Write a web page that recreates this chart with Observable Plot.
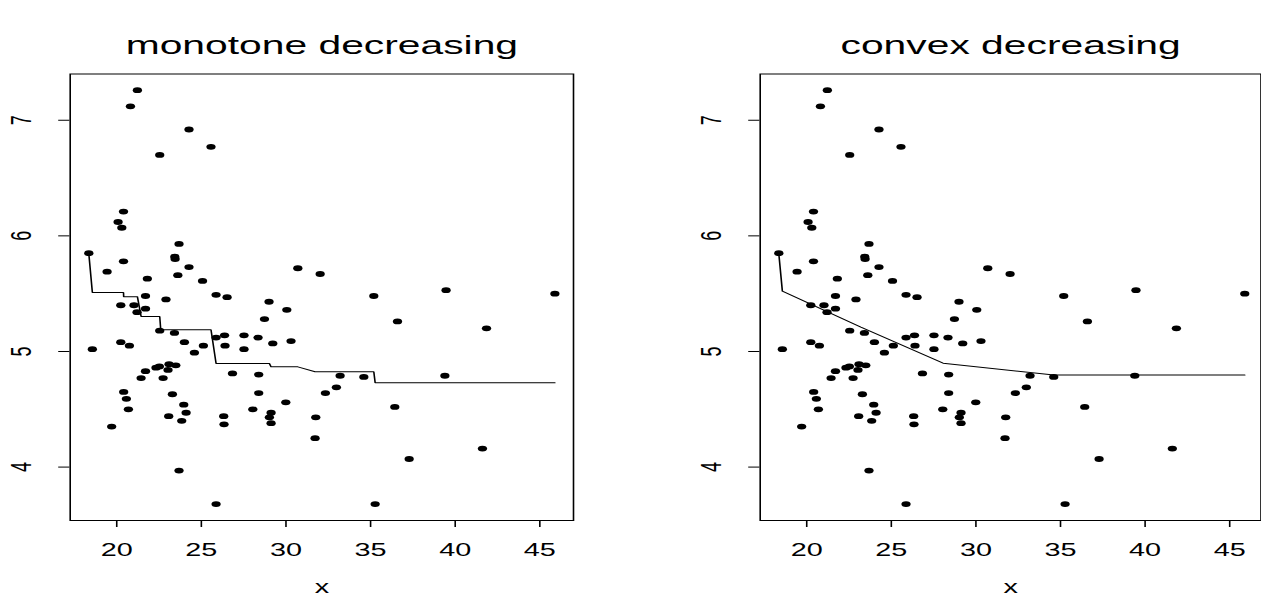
<!DOCTYPE html>
<html><head><meta charset="utf-8">
<script src="https://cdn.jsdelivr.net/npm/d3@7"></script>
<script src="https://cdn.jsdelivr.net/npm/@observablehq/plot@0.6"></script>
<style>
html,body{margin:0;padding:0;background:#fff;}
#wrap{position:relative;width:1261px;height:596px;overflow:hidden;background:#fff;}
</style></head><body><div id="wrap"></div>
<script>
// observed points (same in both panels)
const xs = [21.22,20.81,24.27,25.57,22.54,20.40,20.08,20.30,23.68,18.35,23.43,23.45,20.40,24.27,19.43,30.70,32.02,23.61,21.81,25.07,
  21.70,25.87,26.52,20.24,21.02,22.91,29.00,21.70,21.20,30.05,28.73,22.54,23.41,25.87,26.37,27.52,28.35,24.00,20.24,20.75,
  25.12,26.40,29.22,30.30,18.56,27.52,24.59,23.09,23.49,22.52,22.32,23.03,21.70,26.84,28.39,21.44,22.74,20.41,28.39,23.29,
  20.57,29.99,23.96,20.69,28.04,24.10,29.12,23.07,26.32,29.02,23.84,29.12,26.34,31.76,19.70,31.72,23.68,25.87,35.19,39.46,
  45.89,36.59,41.85,33.20,34.60,39.39,32.98,32.33,36.43,41.61,37.28,35.27];
const ys = [7.26,7.12,6.92,6.77,6.70,6.21,6.12,6.07,5.93,5.85,5.82,5.80,5.78,5.73,5.69,5.72,5.67,5.66,5.63,5.61,
  5.48,5.49,5.47,5.40,5.40,5.45,5.43,5.37,5.34,5.36,5.28,5.18,5.16,5.12,5.14,5.14,5.12,5.08,5.08,5.05,
  5.05,5.05,5.07,5.09,5.02,5.02,4.99,4.89,4.88,4.87,4.86,4.84,4.83,4.81,4.80,4.77,4.77,4.65,4.64,4.63,
  4.59,4.56,4.54,4.50,4.50,4.47,4.47,4.44,4.44,4.43,4.40,4.38,4.37,4.43,4.35,4.25,3.97,3.68,5.48,5.53,
  5.50,5.26,5.20,4.79,4.78,4.79,4.69,4.64,4.52,4.16,4.07,3.68];
// fitted curves
const monoX = [18.35,18.56,20.40,20.41,21.22,21.44,22.54,22.60,25.57,25.87,29.02,29.12,30.70,31.72,35.19,35.27,45.89];
const monoY = [5.846,5.51,5.51,5.474,5.474,5.303,5.303,5.188,5.188,4.896,4.896,4.867,4.867,4.824,4.824,4.73,4.73];
const convX = [18.35,18.56,23.20,28.06,34.60,45.89];
const convY = [5.846,5.522,5.21,4.899,4.797,4.797];
const xTicks = [20,25,30,35,40,45];
const yTicks = [4,5,6,7];
const titles = ["monotone decreasing","convex decreasing"];

const S = 1.6;   // horizontal stretch of the original raster
const H = 596;
const FONT = "'Liberation Sans', Arial, Helvetica, sans-serif";

function panel({title, fitX, fitY, left, width, boxL, boxR, xMax}) {
  const W = width / S;
  const points = xs.map((x, i) => ({x, y: ys[i]}));
  const fit = fitX.map((x, i) => ({x, y: fitY[i]}));
  const svg = Plot.plot({
    width: W, height: H,
    marginLeft: boxL / S, marginRight: W - boxR / S,
    marginTop: 73.5, marginBottom: H - 520,
    x: {domain: [17.25, xMax]},
    y: {domain: [3.538, 7.40]},
    style: {fontFamily: FONT, color: "black", background: "white"},
    marks: [
      Plot.axisX({ticks: xTicks, tickSize: 7, tickPadding: 16, fontSize: 18, label: null, tickFormat: d => String(d)}),
      Plot.axisY({ticks: yTicks, tickSize: 7, tickFormat: () => "", label: null}),
      Plot.text(yTicks, {y: d => d, text: d => String(d), frameAnchor: "left", dx: -30, rotate: -90,
        fontSize: 18, textAnchor: "middle", lineAnchor: "middle"}),
      Plot.text(["x"], {text: d => d, frameAnchor: "bottom", dy: 67, fontSize: 18, lineAnchor: "middle"}),
      Plot.text([title], {text: d => d, frameAnchor: "top", dy: -28.5, fontSize: 25.5, lineAnchor: "middle"}),
      Plot.line(fit, {x: "x", y: "y", stroke: "black", strokeWidth: 1}),
      Plot.dot(points, {x: "x", y: "y", r: 2.9, fill: "black", stroke: "none"}),
      Plot.frame({stroke: "black", strokeWidth: 1})
    ]
  });
  svg.setAttribute("width", width);
  svg.setAttribute("height", H);
  svg.setAttribute("viewBox", `0 0 ${W} ${H}`);
  svg.setAttribute("preserveAspectRatio", "none");
  svg.style.position = "absolute";
  svg.style.left = left + "px";
  svg.style.top = "0px";
  svg.style.width = width + "px";
  svg.style.height = H + "px";
  svg.style.maxWidth = "none";
  return svg;
}

const wrap = document.getElementById("wrap");
wrap.appendChild(panel({title: titles[0], fitX: monoX, fitY: monoY, left: 0, width: 630,
  boxL: 69.4, boxR: 572.7, xMax: 46.99}));
wrap.appendChild(panel({title: titles[1], fitX: convX, fitY: convY, left: 630, width: 631,
  boxL: 129.4, boxR: 630.2, xMax: 46.85}));
</script></body></html>
